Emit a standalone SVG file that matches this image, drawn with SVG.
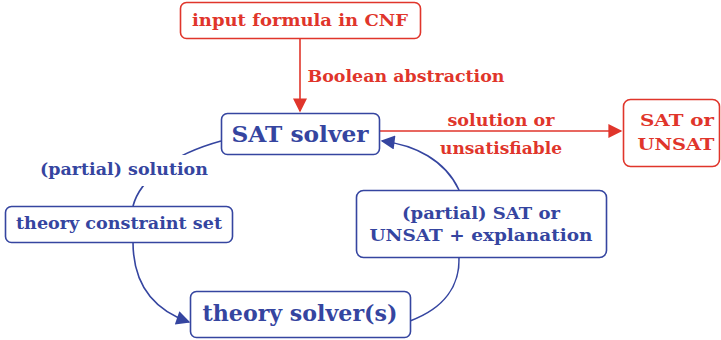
<svg xmlns="http://www.w3.org/2000/svg" width="721" height="340" viewBox="0 0 721 340">
<defs>
<style>
.bx{fill:#fff;stroke-width:1.6}
.r{stroke:#e0352b}
.b{stroke:#3545a0}
.t{font-family:"DejaVu Serif","Liberation Serif",serif;font-weight:bold;text-anchor:middle;dominant-baseline:central}
.tr{fill:#e0352b}
.tb{fill:#3545a0}
.s{font-size:16.5px}
.L{font-size:22px}
.c{fill:none;stroke-width:1.6}
</style>
<marker id="ab" viewBox="0 0 10 10" refX="9" refY="5" markerWidth="16" markerHeight="14" markerUnits="userSpaceOnUse" orient="auto"><path d="M0,0L10,5L0,10z" fill="#3545a0"/></marker>
<marker id="ar2" viewBox="0 0 10 10" refX="9" refY="5" markerWidth="16" markerHeight="14" markerUnits="userSpaceOnUse" orient="auto"><path d="M0,0L10,5L0,10z" fill="#e0352b"/></marker>
</defs>
<rect width="721" height="340" fill="#fff"/>
<g id="connectors">
<path class="c r" d="M300,38 L300,111" marker-end="url(#ar2)"/>
<text class="t tr s" x="406" y="76" textLength="197" lengthAdjust="spacingAndGlyphs">Boolean abstraction</text>
<path class="c r" d="M380,131 L621,131" marker-end="url(#ar2)"/>
<text class="t tr s" x="501" y="120" textLength="107" lengthAdjust="spacingAndGlyphs">solution or</text>
<text class="t tr s" x="501" y="148" textLength="122" lengthAdjust="spacingAndGlyphs">unsatisfiable</text>
<path class="c b" d="M221,141 C170,155 140,180 133,206"/>
<rect x="36" y="155" width="176" height="31" fill="#fff"/>
<text class="t tb s" x="124" y="169" textLength="168" lengthAdjust="spacingAndGlyphs">(partial) solution</text>
<path class="c b" d="M133,242 C133,290 160,312 189,322" marker-end="url(#ab)"/>
<path class="c b" d="M410,321 C445,308 460,285 459,257"/>
<path class="c b" d="M459,190 C445,160 415,145 382,141" marker-end="url(#ab)"/>
</g>
<g id="input">
<rect class="bx r" x="180.5" y="2.5" width="240" height="36" rx="6"/>
<text class="t tr s" x="300" y="20" textLength="216" lengthAdjust="spacingAndGlyphs">input formula in CNF</text>
</g>
<g id="sat">
<rect class="bx b" x="221.5" y="113.5" width="158" height="41" rx="6"/>
<text class="t tb L" x="300" y="134" textLength="137" lengthAdjust="spacingAndGlyphs">SAT solver</text>
</g>
<g id="result">
<rect class="bx r" x="623.5" y="99.5" width="96" height="67" rx="7"/>
<text class="t tr s" x="677" y="120" textLength="74" lengthAdjust="spacingAndGlyphs">SAT or</text>
<text class="t tr s" x="676" y="144" textLength="77" lengthAdjust="spacingAndGlyphs">UNSAT</text>
</g>
<g id="constraints">
<rect class="bx b" x="5.5" y="206.5" width="227" height="36" rx="6"/>
<text class="t tb s" x="119" y="223" textLength="206" lengthAdjust="spacingAndGlyphs">theory constraint set</text>
</g>
<g id="explanation">
<rect class="bx b" x="356.5" y="190.5" width="250" height="67" rx="7"/>
<text class="t tb s" x="481" y="213" textLength="158" lengthAdjust="spacingAndGlyphs">(partial) SAT or</text>
<text class="t tb s" x="481" y="235" textLength="223" lengthAdjust="spacingAndGlyphs">UNSAT + explanation</text>
</g>
<g id="theory">
<rect class="bx b" x="190.5" y="291.5" width="220" height="46" rx="6"/>
<text class="t tb L" x="300" y="313" textLength="195" lengthAdjust="spacingAndGlyphs">theory solver(s)</text>
</g>
</svg>
